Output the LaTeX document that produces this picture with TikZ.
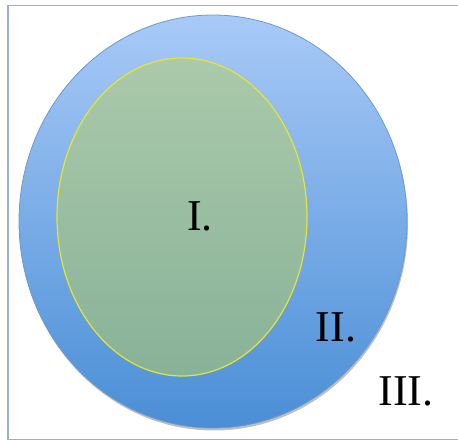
\documentclass[tikz,border=0pt]{standalone}
\usepackage{fontspec}
\setmainfont{Liberation Serif}
\usepackage{tikz}
\usetikzlibrary{positioning}

\definecolor{frameblue}{HTML}{94AFD8}
\definecolor{outertop}{HTML}{A8CAF7}
\definecolor{outerbot}{HTML}{4A8ED6}
\definecolor{outeredge}{HTML}{6C9AD0}
\definecolor{innertop}{HTML}{ABC9AB}
\definecolor{innerbot}{HTML}{88B298}
\definecolor{inneredge}{HTML}{E6E62E}

\begin{document}
\begin{tikzpicture}[x=1pt, y=-1pt,
      every node/.style={font=\fontsize{44}{44}\selectfont, inner sep=0pt},
      setlabel/.style={anchor=base, text=black},
      outerset/.style={draw=outeredge, line width=0.8pt,
                       top color=outertop, bottom color=outerbot},
      innerset/.style={draw=inneredge, line width=1.2pt,
                       top color=innertop, bottom color=innerbot},
      frame/.style={draw=frameblue, line width=1.6pt},
  ]
    \useasboundingbox (0,0) rectangle (458,441);

    %% --- frame, open on the right ---
    \draw[frame] (460,5.5) -- (8,5.5) -- (8,439.5) -- (460,439.5);

    %% --- the two sets ---
    \fill[black!25] (214,224) ellipse [x radius=194, y radius=206.5];
    \shade[outerset] (213,221.5) ellipse [x radius=194, y radius=206.5];
    \shade[innerset] (182,217) ellipse [x radius=125, y radius=159];

    %% --- labels ---
    \node[setlabel] (one)   at (200,230.5) {I.};
    \node[setlabel] (two)   at (336,341.5) {II.};
    \node[setlabel] (three) at (406,405)   {III.};
  \end{tikzpicture}
\end{document}
